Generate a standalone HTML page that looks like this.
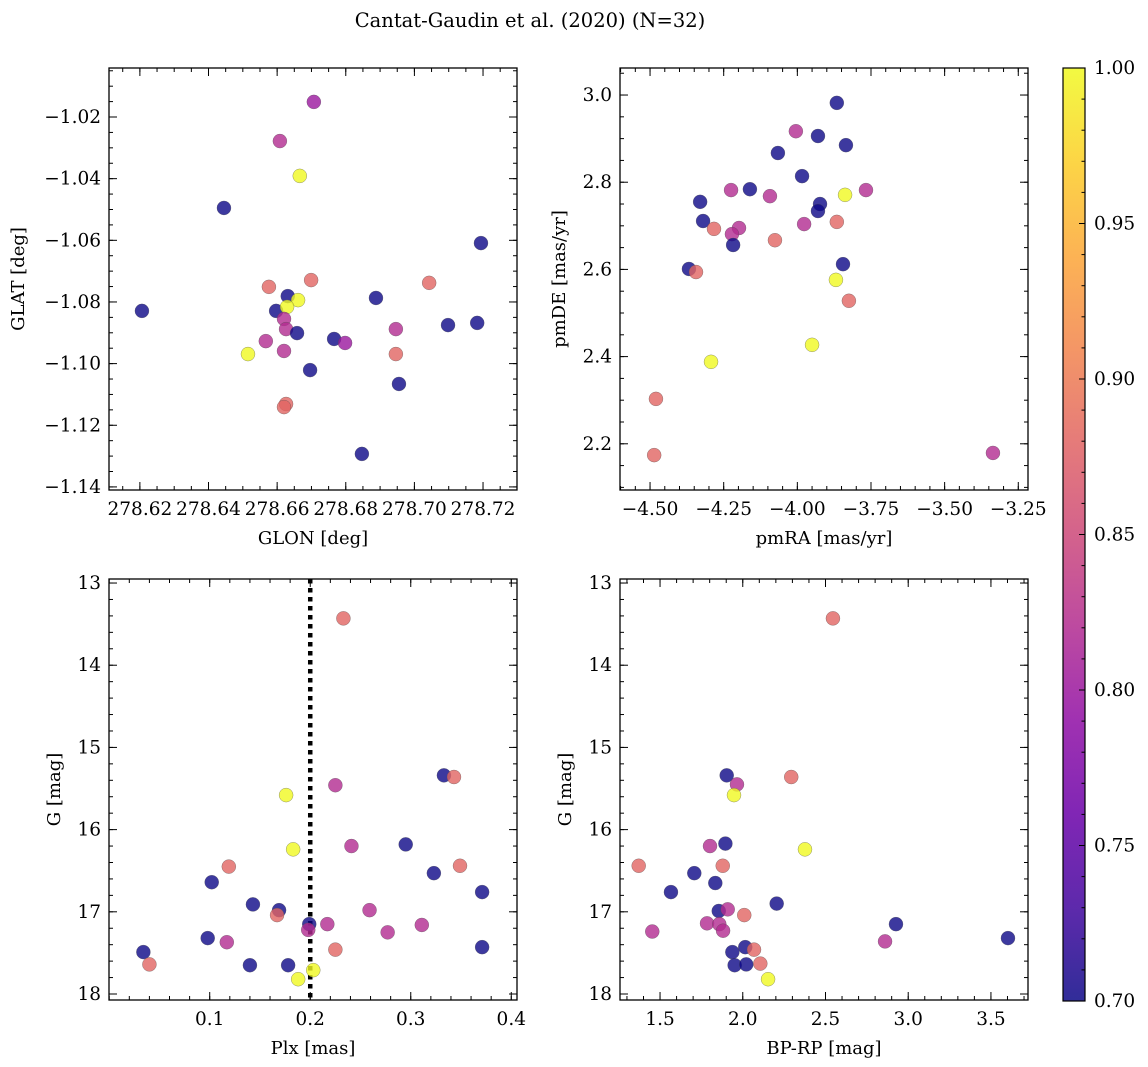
<!DOCTYPE html>
<html><head><meta charset="utf-8">
<style>
html,body{margin:0;padding:0;background:#fff;}
svg{display:block;font-family:"DejaVu Serif","Liberation Serif",serif;}
</style></head>
<body>
<svg id="fig" width="1148" height="1067" viewBox="0 0 1148 1067" xmlns="http://www.w3.org/2000/svg">
<defs>
<linearGradient id="plasma" x1="0" y1="1" x2="0" y2="0">
<stop offset="0" stop-color="#0d0887"/><stop offset="0.1" stop-color="#41049d"/><stop offset="0.2" stop-color="#6a00a8"/><stop offset="0.3" stop-color="#8f0da4"/><stop offset="0.4" stop-color="#b12a90"/><stop offset="0.5" stop-color="#cc4778"/><stop offset="0.6" stop-color="#e16462"/><stop offset="0.7" stop-color="#f2844b"/><stop offset="0.8" stop-color="#fca636"/><stop offset="0.9" stop-color="#fcce25"/><stop offset="1" stop-color="#f0f921"/>
</linearGradient>
</defs>
<text x="530" y="27" font-size="19.5" text-anchor="middle">Cantat-Gaudin et al. (2020) (N=32)</text>
</svg>
<script>
// ---- data ----
const glon = [278.6707,278.6608,278.6666,278.6445,278.7194,278.6206,278.6699,278.6576,278.6631,278.6661,278.6597,278.6629,278.6620,278.6626,278.6658,278.6567,278.6766,278.6798,278.6888,278.7043,278.7098,278.7183,278.6946,278.6946,278.6955,278.6515,278.6620,278.6696,278.6626,278.6620,278.6847];
const glat = [-1.0151,-1.0278,-1.0391,-1.0495,-1.0609,-1.0829,-1.0729,-1.0751,-1.0781,-1.0794,-1.0829,-1.0816,-1.0855,-1.0888,-1.0901,-1.0927,-1.0920,-1.0933,-1.0787,-1.0738,-1.0875,-1.0868,-1.0888,-1.0969,-1.1066,-1.0969,-1.0959,-1.1021,-1.1131,-1.1141,-1.1293];
const probSky = [0.80,0.82,1.0,0.7,0.7,0.7,0.88,0.88,0.7,1.0,0.7,1.0,0.82,0.82,0.7,0.82,0.7,0.80,0.7,0.88,0.7,0.7,0.82,0.88,0.7,1.0,0.82,0.7,0.88,0.88,0.7];

const pmra = [-3.866,-4.005,-3.930,-3.835,-4.066,-3.984,-4.225,-4.161,-4.093,-3.838,-3.767,-4.330,-3.923,-3.930,-4.320,-3.866,-3.977,-4.283,-4.198,-4.222,-4.218,-4.076,-4.368,-4.344,-3.845,-3.869,-3.825,-3.950,-4.293,-4.480,-4.486,-3.336];
const pmde = [2.982,2.917,2.906,2.885,2.867,2.814,2.782,2.784,2.768,2.771,2.782,2.755,2.750,2.734,2.711,2.709,2.704,2.693,2.695,2.681,2.656,2.667,2.601,2.594,2.612,2.576,2.528,2.427,2.388,2.303,2.174,2.179];
const probPm = [0.7,0.82,0.7,0.7,0.7,0.7,0.82,0.7,0.82,1.0,0.82,0.7,0.7,0.7,0.7,0.88,0.82,0.88,0.82,0.82,0.7,0.88,0.7,0.88,0.7,1.0,0.88,1.0,1.0,0.88,0.88,0.82];

const plx = [0.333,0.343,0.225,0.176,0.295,0.241,0.183,0.119,0.349,0.323,0.102,0.371,0.143,0.259,0.169,0.167,0.199,0.198,0.217,0.311,0.277,0.098,0.117,0.225,0.371,0.034,0.040,0.140,0.178,0.203,0.188,0.233];
const gPlx = [15.34,15.36,15.46,15.58,16.18,16.20,16.24,16.45,16.44,16.53,16.64,16.76,16.91,16.98,16.98,17.04,17.15,17.22,17.15,17.16,17.25,17.32,17.37,17.46,17.43,17.49,17.64,17.65,17.65,17.71,17.82,13.43];
const probPlx = [0.7,0.88,0.82,1.0,0.7,0.82,1.0,0.88,0.88,0.7,0.7,0.7,0.7,0.82,0.7,0.88,0.7,0.82,0.82,0.82,0.82,0.7,0.82,0.88,0.7,0.7,0.88,0.7,0.7,1.0,1.0,0.88];
const plxCut = 0.2;

const bprp = [1.903,1.965,1.947,2.293,1.895,1.802,2.376,1.371,1.879,1.707,1.834,1.566,2.205,1.855,1.909,2.009,1.784,1.858,1.881,1.453,2.86,1.937,2.015,2.068,1.951,2.021,2.106,2.153,2.545,3.603,2.926];
const gCmd = [15.34,15.45,15.58,15.36,16.17,16.20,16.24,16.44,16.44,16.53,16.65,16.76,16.90,16.99,16.97,17.04,17.14,17.15,17.23,17.24,17.36,17.49,17.43,17.46,17.65,17.64,17.63,17.82,13.43,17.32,17.15];
const probCmd = [0.7,0.82,1.0,0.88,0.7,0.82,1.0,0.88,0.88,0.7,0.7,0.7,0.7,0.7,0.82,0.88,0.82,0.82,0.82,0.82,0.82,0.7,0.7,0.88,0.7,0.7,0.88,1.0,0.88,0.7,0.7];

const cbTicks = [0.70,0.75,0.80,0.85,0.90,0.95,1.00];
// ---- rendering ----
const NS="http://www.w3.org/2000/svg";
const svg=document.getElementById('fig');
function el(tag,attrs,parent){const e=document.createElementNS(NS,tag);for(const k in attrs)e.setAttribute(k,attrs[k]);(parent||svg).appendChild(e);return e;}
const stops=[[13,8,135],[65,4,157],[106,0,168],[143,13,164],[177,42,144],[204,71,120],[225,100,98],[242,132,75],[252,166,54],[252,206,37],[240,249,33]];
function plasma(p){let t=(p-0.7)/0.3;t=Math.max(0,Math.min(1,t));const f=t*10,i=Math.min(9,Math.floor(f)),r=f-i;const a=stops[i],b=stops[i+1];return 'rgb('+a.map((v,k)=>Math.round(v+(b[k]-v)*r)).join(',')+')';}

function panel(cfg){
  const {name,x0,y0,w,h,xd,yd,xMaj,xMin,yMaj,yMin,xFmt,yFmt,xlabel,ylabel,invY}=cfg;
  const g=el('g',{});
  
  
  const sx=v=>x0+(v-xd[0])/(xd[1]-xd[0])*w;
  const sy=invY?(v=>y0+(v-yd[0])/(yd[1]-yd[0])*h):(v=>y0+h-(v-yd[0])/(yd[1]-yd[0])*h);
  const ticks=(d,step)=>{const a=[];let s=Math.ceil(d[0]/step-1e-6);for(let k=s;k*step<=d[1]+1e-9;k++)a.push(k*step);return a;};
  const tg=el('g',{stroke:'#000','stroke-width':1},g);
  
  
  ticks(xd,xMin).forEach(v=>{const X=sx(v);el('line',{x1:X,x2:X,y1:y0+h,y2:y0+h-4},tg);el('line',{x1:X,x2:X,y1:y0,y2:y0+4},tg);});
  ticks(yd,yMin).forEach(v=>{const Y=sy(v);el('line',{x1:x0,x2:x0+4,y1:Y,y2:Y},tg);el('line',{x1:x0+w,x2:x0+w-4,y1:Y,y2:Y},tg);});
  ticks(xd,xMaj).forEach(v=>{const X=sx(v);if(X<x0+2&&cfg.skipFirstX)return;el('line',{x1:X,x2:X,y1:y0+h,y2:y0+h-8},tg);el('line',{x1:X,x2:X,y1:y0,y2:y0+8},tg);
    const t=el('text',{x:X,y:y0+h+25,'font-size':18.5,'text-anchor':'middle'},g);t.textContent=xFmt(v);
    
    });
  ticks(yd,yMaj).forEach(v=>{const Y=sy(v);el('line',{x1:x0,x2:x0+8,y1:Y,y2:Y},tg);el('line',{x1:x0+w,x2:x0+w-8,y1:Y,y2:Y},tg);
    const t=el('text',{x:x0-8,y:Y+6,'font-size':18.5,'text-anchor':'end'},g);t.textContent=yFmt(v);
    
    });
  const xl=el('text',{x:x0+w/2,y:y0+h+54,'font-size':18,'text-anchor':'middle'},g);xl.textContent=xlabel;
  
  
  const yx=cfg.ylabX;
  const yl=el('text',{x:yx,y:y0+h/2,'font-size':18,'text-anchor':'middle',transform:'rotate(-90 '+yx+' '+(y0+h/2)+')'},g);yl.textContent=ylabel;
  
  
  el('rect',{x:x0,y:y0,width:w,height:h,fill:'none',stroke:'#000','stroke-width':1.3},g);
  return {g,sx,sy};
}
function scatter(p,xs,ys,ps,name){
  xs.forEach((v,i)=>{
    const c=el('circle',{cx:p.sx(v),cy:p.sy(ys[i]),r:7,fill:plasma(ps[i]),'fill-opacity':0.8,stroke:'rgba(80,80,80,0.6)','stroke-width':0.5},p.g);
    
    
  });
}
const f2=v=>v.toFixed(2).replace('-','\u2212');
const f1=v=>v.toFixed(1);
const f0=v=>v.toFixed(0);

const p1=panel({name:'sky-position-panel',x0:109,y0:68,w:408,h:422,xd:[278.6110,278.7299],yd:[-1.1410,-1.0041],xMaj:0.02,xMin:0.005,yMaj:0.02,yMin:0.005,xFmt:v=>v.toFixed(2),yFmt:f2,xlabel:'GLON [deg]',ylabel:'GLAT [deg]',ylabX:24});
scatter(p1,glon,glat,probSky,'star-point');
const p2=panel({name:'proper-motion-panel',x0:620,y0:68,w:408,h:422,xd:[-4.602,-3.217],yd:[2.094,3.062],xMaj:0.25,xMin:0.05,yMaj:0.2,yMin:0.05,xFmt:f2,yFmt:f1,xlabel:'pmRA [mas/yr]',ylabel:'pmDE [mas/yr]',ylabX:565});
scatter(p2,pmra,pmde,probPm,'star-point');
const p3=panel({name:'parallax-magnitude-panel',x0:109,y0:579,w:408,h:421,xd:[-0.0002,0.4057],yd:[12.951,18.073],xMaj:0.1,xMin:0.02,yMaj:1,yMin:0.2,xFmt:f1,yFmt:f0,xlabel:'Plx [mas]',ylabel:'G [mag]',ylabX:60,invY:true,skipFirstX:true});
const cut=el('line',{x1:p3.sx(plxCut),x2:p3.sx(plxCut),y1:579,y2:1000,stroke:'#000','stroke-width':4.5,'stroke-dasharray':'4.5 4.5'},p3.g);


scatter(p3,plx,gPlx,probPlx,'star-point');
const p4=panel({name:'color-magnitude-panel',x0:620,y0:579,w:408,h:421,xd:[1.258,3.724],yd:[12.951,18.073],xMaj:0.5,xMin:0.1,yMaj:1,yMin:0.2,xFmt:f1,yFmt:f0,xlabel:'BP-RP [mag]',ylabel:'G [mag]',ylabX:571,invY:true});
scatter(p4,bprp,gCmd,probCmd,'star-point');

// colorbar
const cb=el('g',{});


const cx0=1063,cy0=68,cw=22,ch=933;
el('rect',{x:cx0,y:cy0,width:cw,height:ch,fill:'url(#plasma)','fill-opacity':0.85},cb);
const cby=v=>cy0+ch-(v-0.7)/0.3*ch;
for(let k=70;k<=100;k++){const Y=cby(k/100);el('line',{x1:cx0+cw,x2:cx0+cw-(k%5===0?6:3.5),y1:Y,y2:Y,stroke:'#000','stroke-width':1},cb);}
cbTicks.forEach(v=>{const t=el('text',{x:cx0+cw+9,y:cby(v)+6,'font-size':18.5},cb);t.textContent=v.toFixed(2);
  
  });
el('rect',{x:cx0,y:cy0,width:cw,height:ch,fill:'none',stroke:'#000','stroke-width':1.2},cb);
</script>
</body></html>
